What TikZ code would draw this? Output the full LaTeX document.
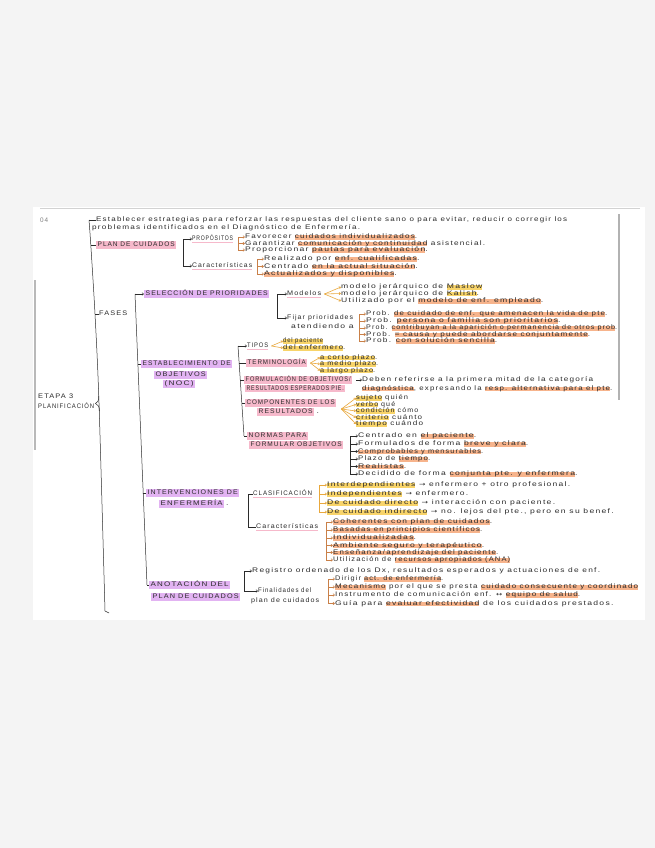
\documentclass[tikz,border=0pt]{standalone}
\usepackage{fontspec}
\usepackage{graphicx}
\usetikzlibrary{arrows.meta}
\newfontfamily\hand[LetterSpace=15]{Liberation Sans}
\newfontfamily\symf{DejaVu Sans}
\newcommand\hf{\hand\fontsize{6.6}{7}\selectfont}
\newcommand\RA{{\symf\fontsize{6}{7}\selectfont →}}
\newcommand\LRA{{\symf\fontsize{6}{7}\selectfont ↔}}
\definecolor{ink}{HTML}{2B2B2B}
\definecolor{pk}{HTML}{F6B9CB}
\definecolor{vl}{HTML}{E2B3F2}
\definecolor{hor}{HTML}{F7B48C}
\definecolor{hy}{HTML}{F8D46A}
\definecolor{brk}{HTML}{C98048}
\definecolor{fkc}{HTML}{E9A83C}
\definecolor{bgout}{HTML}{F4F4F4}
\newsavebox\hlbox
\newsavebox\wbox
\newcommand\W[2]{\sbox\wbox{#2}\scalebox{\fpeval{max(0.78,min(1.3,(#1)/(\the\wd\wbox)))}}[1]{\usebox\wbox}}
\newcommand\HO[1]{\sbox\hlbox{#1}\rlap{\color{hor}\rule[-1pt]{\wd\hlbox}{4.6pt}}\usebox\hlbox}
\newcommand\HY[1]{\sbox\hlbox{#1}\rlap{\color{hy}\rule[-1pt]{\wd\hlbox}{4.6pt}}\usebox\hlbox}
\newcommand\UP[1]{\sbox\hlbox{#1}\rlap{\color{pk}\rule[-2.4pt]{\wd\hlbox}{1.3pt}}\usebox\hlbox}
\tikzset{
  t/.style={anchor=west, inner sep=0pt, font=\hf, text=ink, text height=4.9pt, text depth=1.4pt},
  hp/.style={t, fill=pk, inner xsep=1.5pt, inner ysep=0.8pt},
  hv/.style={t, fill=vl, inner xsep=1.5pt, inner ysep=0.8pt},
  br/.style={draw=ink, line width=0.5pt},
  ar/.style={br, -{Straight Barb[length=1.6pt,width=2.6pt]}},
  bo/.style={draw=brk, line width=0.55pt, -{Straight Barb[length=1.6pt,width=2.6pt]}},
  by/.style={draw=fkc, line width=0.6pt, -{Straight Barb[length=1.5pt,width=2.4pt]}},
  fk/.style={draw=fkc, line width=0.6pt, -{Straight Barb[length=1.5pt,width=2.4pt]}}
}
\begin{document}
\begin{tikzpicture}[x=1pt,y=-1pt]
\useasboundingbox (0,0) rectangle (655,848);
\fill[bgout] (0,0) rectangle (655,848);
\fill[white] (33,207) rectangle (645,620);
\draw[gray!35, line width=1pt] (40,208) -- (640,208);
\draw[gray!55, line width=1.6pt] (35,280) -- (35,450);
\draw[gray!60, line width=1.6pt] (619,214) -- (619,400);

% ---------- left column
\node[t, text=gray] (n04) at (40,221) {\W{8}{04}};
\node[t] (et1) at (38,397) {\W{35}{ETAPA 3}};
\node[t] (et2) at (38,407) {\W{56}{PLANIFICACIÓN}};

\node[t] (e1) at (96,220) {\W{471}{Establecer estrategias para reforzar las respuestas del cliente sano o para evitar, reducir o corregir los}};
\node[t] (e2) at (92,228) {\W{268}{problemas identificados en el Diagnóstico de Enfermería.}};
\node[hp] (plan) at (96,245) {\W{77}{PLAN DE CUIDADOS}};
\node[t] (fases) at (99,314) {\W{28}{FASES}};

% main line
\coordinate (ml1) at (89,220);
\coordinate (ml2) at (90.8,245);
\coordinate (ml3) at (95,314);
\draw[br] plot[smooth] coordinates {(89,220) (90.8,245) (95,314) (99,403) (105,611)} -- (109,613);
\draw[br] (ml1) -- (e1.west);
\draw[br] (ml2) -- (plan.west);
\draw[br] (ml3) -- (fases.west);
\draw[br] (98.6,396) .. controls (99,401) and (97.5,402.5) .. (95.5,403.5) .. controls (97.5,404.5) and (99.4,406) .. (99.6,411);

% ---------- PLAN DE CUIDADOS
\node[t] (prop) at (192,239) {\W{40}{\UP{PROPÓSITOS}}};
\node[t] (carP) at (192,266) {\W{60}{\UP{Características}}};
\draw[ar] ([xshift=-9pt]prop.west) -- (prop.west);
\draw[ar] ([xshift=-9pt]prop.west) |- (carP.west);

\node[t] (p1) at (245,237) {\W{172}{Favorecer \HO{cuidados individualizados}.}};
\node[t] (p2) at (245,243.5) {\W{240}{Garantizar \HO{comunicación y continuidad} asistencial.}};
\node[t] (p3) at (245,250) {\W{185}{Proporcionar \HO{pautas para evaluación}.}};
\draw[bo] ([xshift=-7pt]p1.west) -- (p1.west);
\draw[bo] ([xshift=-7pt]p1.west) |- (p3.west);
\draw[bo] ([xshift=-7pt]p2.west) -- (p2.west);

\node[t] (k1) at (264,259) {\W{156}{Realizado por \HO{enf. cualificadas}.}};
\node[t] (k2) at (264,266.5) {\W{181}{Centrado \HO{en la actual situación}.}};
\node[t] (k3) at (264,274) {\W{143}{\HO{Actualizados y disponibles}.}};
\draw[bo] ([xshift=-7pt]k1.west) -- (k1.west);
\draw[bo] ([xshift=-7pt]k1.west) |- (k3.west);
\draw[bo] ([xshift=-7pt]k2.west) -- (k2.west);

% ---------- FASES bracket
\coordinate (fa1) at (135,294);
\coordinate (fa2) at (137.9,364);
\coordinate (fa3) at (143.2,493);
\coordinate (fa4) at (147,585);
\node[hv] (sel) at (144,294) {\W{122}{SELECCIÓN DE PRIORIDADES}};
\node[hv] (est1) at (141,364) {\W{88}{ESTABLECIMIENTO DE}};
\node[hv] (est2) at (154,375) {\W{50}{OBJETIVOS}};
\node[hv] (est3) at (163,384) {\W{29}{(NOC)}};
\node[hv] (int1) at (146,493) {\W{90}{INTERVENCIONES DE}};
\node[hv] (int2) at (159,504) {\W{62}{ENFERMERÍA}};
\node[t] (int3) at ([xshift=1.5pt]int2.east) {\W{3}{.}};
\node[hv] (ano1) at (149,585) {\W{78}{ANOTACIÓN DEL}};
\node[hv] (ano2) at (151,597) {\W{86}{PLAN DE CUIDADOS}};
\draw[br] (fa1) -- (fa4);
\draw[ar] (fa1) -- (sel.west);
\draw[br] (fa2) -- (est1.west);
\draw[br] (fa3) -- (int1.west);
\draw[br] (fa4) -- (ano1.west);

% ---------- Selección de prioridades
\node[t] (mod) at (287,294) {\W{34}{\UP{Modelos}}};
\node[t] (fij1) at (287,318) {\W{66}{Fijar prioridades}};
\node[t] (fij2) at (291,327) {\W{64}{atendiendo a}};
\draw[ar] ([xshift=-10pt]mod.west) -- (mod.west);
\draw[ar] ([xshift=-10pt]mod.west) |- (fij1.west);

\node[t] (m1) at (341,287) {\W{147}{modelo jerárquico de \HY{Maslow}}};
\node[t] (m2) at (341,293.5) {\W{138}{modelo jerárquico de \HY{Kalish}.}};
\node[t] (m3) at (341,301) {\W{229}{Utilizado por el \HO{modelo de enf. empleado}.}};
\coordinate (mf) at ([xshift=3pt]mod.east);
\draw[fk] (mf) -- (m1.west);
\draw[fk] (mf) -- (m2.west);
\draw[fk] (mf) -- (m3.west);

\node[t] (f1) at (366,314) {\W{241}{Prob. \HO{de cuidado de enf. que amenacen la vida de pte}.}};
\node[t] (f2) at (366,321) {\W{202}{Prob. \HO{persona o familia son prioritarios}.}};
\node[t] (f3) at (366,328) {\W{251}{Prob. \HO{contribuyan a la aparición o permanencia de otros prob}.}};
\node[t] (f4) at (366,334.5) {\W{224}{Prob. \HO{= causa y puede abordarse conjuntamente}.}};
\node[t] (f5) at (366,341) {\W{131}{Prob. \HO{con solución sencilla}.}};
\draw[bo] ([xshift=-7pt]f1.west) -- (f1.west);
\draw[bo] ([xshift=-7pt]f1.west) |- (f5.west);
\draw[bo] ([xshift=-7pt]f2.west) -- (f2.west);
\draw[bo] ([xshift=-7pt]f3.west) -- (f3.west);
\draw[bo] ([xshift=-7pt]f4.west) -- (f4.west);

% ---------- Establecimiento de objetivos
\coordinate (nb1) at (238,346);
\coordinate (nb2) at (239.1,363);
\coordinate (nb3) at (240.3,380);
\coordinate (nb4) at (241.8,403);
\coordinate (nb5) at (244,436);
\node[t] (tipos) at (247,346) {\W{21}{\UP{TIPOS}}};
\node[hp] (term) at (246,363) {\W{58}{TERMINOLOGÍA}};
\node[hp] (form1) at (244,380) {\W{105}{FORMULACIÓN DE OBJETIVOS/}};
\node[hp] (form2) at (245,388.5) {\W{97}{RESULTADOS ESPERADOS PIE.}};
\node[hp] (comp1) at (245,403) {\W{88}{COMPONENTES DE LOS}};
\node[hp] (comp2) at (257,412) {\W{54}{RESULTADOS}};
\node[t] (comp3) at ([xshift=2pt]comp2.east) {\W{3}{.}};
\node[hp] (norm1) at (247,436) {\W{58}{NORMAS PARA}};
\node[hp] (norm2) at (249,445) {\W{91}{FORMULAR OBJETIVOS}};
\draw[br] (nb1) -- (nb5);
\draw[ar] (nb1) -- (tipos.west);
\draw[br] (nb2) -- (term.west);
\draw[br] (nb3) -- (form1.west);
\draw[br] (nb4) -- (comp1.west);
\draw[br] (nb5) -- (norm1.west);

\node[t] (t1) at (283,341) {\W{40}{\HY{del paciente}}};
\node[t] (t2) at (283,348) {\W{62}{\HY{del enfermero}.}};
\coordinate (tf) at ([xshift=3pt]tipos.east);
\draw[fk] (tf) -- (t1.west);
\draw[fk] (tf) -- (t2.west);

\node[t] (tm1) at (320,357.5) {\W{57}{\HY{a corto plazo}.}};
\node[t] (tm2) at (320,364) {\W{58}{\HY{a medio plazo}.}};
\node[t] (tm3) at (320,370.5) {\W{55}{\HY{a largo plazo}.}};
\coordinate (tmf) at ([xshift=3pt]term.east);
\draw[fk] (tmf) -- (tm1.west);
\draw[fk] (tmf) -- (tm2.west);
\draw[fk] (tmf) -- (tm3.west);

\node[t] (fr1) at (362,380) {\W{231}{Deben referirse a la primera mitad de la categoría}};
\node[t] (fr2) at (362,388.5) {\W{250}{\HO{diagnóstica}, expresando la \HO{resp. alternativa para el pte}.}};
\draw[ar] ([xshift=4pt]form1.east) -- (fr1.west);

\node[t] (c1) at (356,398) {\W{52}{\HY{sujeto} quién}};
\node[t] (c2) at (356,404.5) {\W{39}{\HY{verbo} qué}};
\node[t] (c3) at (356,411) {\W{62}{\HY{condición} cómo}};
\node[t] (c4) at (356,417.5) {\W{66}{\HY{criterio} cuánto}};
\node[t] (c5) at (356,424) {\W{67}{\HY{tiempo} cuándo}};
\coordinate (cf) at ([xshift=5pt,yshift=-6pt]comp1.east);
\foreach \c in {c1,c2,c3,c4,c5} \draw[fk] (cf) -- (\c.west);

\node[t] (n1) at (358,436) {\W{122}{Centrado en \HO{el paciente}.}};
\node[t] (n2) at (358,444) {\W{175}{Formulados de forma \HO{breve y clara}.}};
\node[t] (n3) at (358,451.5) {\W{125}{\HO{Comprobables y mensurables}.}};
\node[t] (n4) at (358,459) {\W{72}{Plazo de \HO{tiempo}.}};
\node[t] (n5) at (358,466.5) {\W{55}{\HO{Realistas}.}};
\node[t] (n6) at (358,474) {\W{244}{Decidido de forma \HO{conjunta pte. y enfermera}.}};
\draw[ar] ([xshift=-8pt]n1.west) -- (n1.west);
\draw[ar] ([xshift=-8pt]n1.west) |- (n6.west);
\foreach \n in {n2,n3,n4,n5} \draw[ar] ([xshift=-8pt]\n.west) -- (\n.west);

% ---------- Intervenciones
\node[t] (clas) at (253,494) {\W{59}{\UP{CLASIFICACIÓN}}};
\node[t] (car2) at (256,527) {\W{62}{\UP{Características}}};
\draw[br] ([xshift=-5pt]clas.west) -- (clas.west);
\draw[br] ([xshift=-5pt]clas.west) |- (car2.west);

\node[t] (cl1) at (327,485) {\W{243}{\HY{Interdependientes} \RA{} enfermero + otro profesional.}};
\node[t] (cl2) at (327,494) {\W{141}{\HY{Independientes} \RA{} enfermero.}};
\node[t] (cl3) at (327,503) {\W{238}{\HY{De cuidado directo} \RA{} interacción con paciente.}};
\node[t] (cl4) at (327,512) {\W{295}{\HY{De cuidado indirecto} \RA{} no. lejos del pte., pero en su benef.}};
\draw[by] ([xshift=-8pt]cl1.west) -- (cl1.west);
\draw[by] ([xshift=-8pt]cl1.west) |- (cl4.west);
\draw[by] ([xshift=-8pt]cl2.west) -- (cl2.west);
\draw[by] ([xshift=-8pt]cl3.west) -- (cl3.west);

\node[t] (ca1) at (333,522) {\W{159}{\HO{Coherentes con plan de cuidados}.}};
\node[t] (ca2) at (333,530) {\W{149}{\HO{Basadas en principios científicos}.}};
\node[t] (ca3) at (333,538) {\W{85}{\HO{Individualizadas}.}};
\node[t] (ca4) at (333,545.5) {\W{162}{\HO{Ambiente seguro y terapéutico}.}};
\node[t] (ca5) at (333,552.5) {\W{165}{\HO{Enseñanza/aprendizaje del paciente}.}};
\node[t] (ca6) at (333,560) {\W{177}{Utilización de \HO{recursos apropiados (ANA)}}};
\draw[bo] ([xshift=-7pt]ca1.west) -- (ca1.west);
\draw[bo] ([xshift=-7pt]ca1.west) |- (ca6.west);
\foreach \c in {ca2,ca3,ca4,ca5} \draw[bo] ([xshift=-7pt]\c.west) -- (\c.west);

% ---------- Anotación del plan
\node[t] (reg) at (252,571) {\W{348}{Registro ordenado de los Dx, resultados esperados y actuaciones de enf.}};
\node[t] (fin1) at (258,591) {\W{53}{Finalidades del}};
\node[t] (fin2) at (251,601) {\W{68}{plan de cuidados}};
\draw[ar] ([xshift=-8pt]reg.west) -- (reg.west);
\draw[ar] ([xshift=-8pt]reg.west) |- (fin1.west);

\node[t] (fi1) at (335,579) {\W{108}{Dirigir \HO{act. de enfermería}.}};
\node[t] (fi2) at (335,587) {\W{303}{\HO{Mecanismo} por el que se presta \HO{cuidado consecuente y coordinado}}};
\node[t] (fi3) at (335,595) {\W{245}{Instrumento de comunicación enf. \LRA{} \HO{equipo de salud}.}};
\node[t] (fi4) at (335,603.5) {\W{300}{Guía para \HO{evaluar efectividad} de los cuidados prestados.}};
\draw[bo] ([xshift=-7pt]fi1.west) -- (fi1.west);
\draw[bo] ([xshift=-7pt]fi1.west) |- (fi4.west);
\draw[bo] ([xshift=-7pt]fi2.west) -- (fi2.west);
\draw[bo] ([xshift=-7pt]fi3.west) -- (fi3.west);
\end{tikzpicture}
\end{document}
